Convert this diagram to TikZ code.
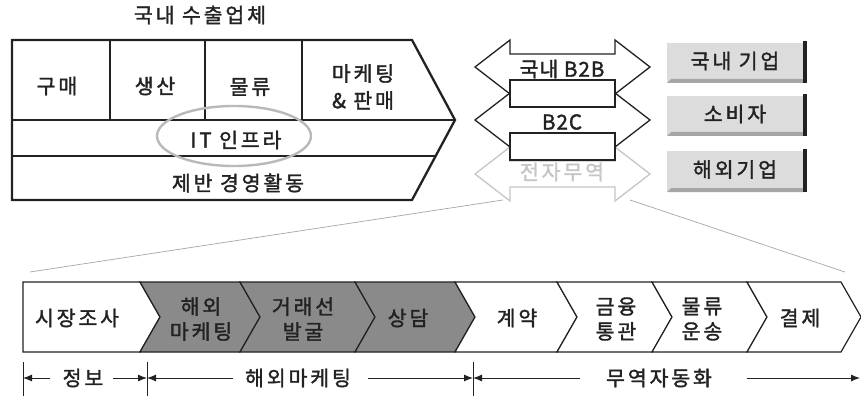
\documentclass[tikz,border=0pt]{standalone}
\usepackage{fontspec}
\setmainfont[LetterSpace=14, FakeBold=1.6]{Noto Sans CJK KR}
\usetikzlibrary{arrows.meta}
\definecolor{dk}{HTML}{8A8A8A}
\definecolor{lt}{HTML}{DCDCDC}
\definecolor{ink}{HTML}{222222}
\begin{document}
\begin{tikzpicture}[x=1pt,y=-1pt,
  txt/.style={font=\fontsize{20.5}{25}\selectfont, text=ink, inner sep=0pt, align=center},
  tight/.style={font=\fontsize{20.5}{25}\selectfont\addfontfeature{LetterSpace=5}},
  thinline/.style={line width=1.1pt, ink},
  dimarrow/.style={line width=1pt, ink, -{Latex[length=9pt,width=7pt]}},
  tick/.style={line width=1pt, ink},
  zoomline/.style={line width=0.7pt, gray!70},
  chev/.style={line width=1.2pt, ink, line join=miter},
  twoway/.style={line width=1.3pt, fill=white, line join=miter}
]
\fill[white] (0,0) rectangle (861,398);
\useasboundingbox (0,0) rectangle (861,398);

% ---------- top value chain box ----------
\node[txt] (title) at (200,15) {국내 수출업체};
\draw[line width=2.3pt, ink, line join=miter] (12,40) -- (412,40) -- (455,120) -- (412,200) -- (12,200) -- cycle;
\draw[thinline] (12,120) -- (455,120);
\draw[thinline] (12,156) -- (435.6,156);
\draw[thinline] (110,40) -- (110,120);
\draw[thinline] (205,40) -- (205,120);
\draw[thinline] (302,40) -- (302,120);
\node[txt] (buy) at (57,86) {구매};
\node[txt] (prod) at (155,86) {생산};
\node[txt] (logi) at (250,87) {물류};
\node[txt] (mkt) at (363,87) {마케팅\\[2pt]\& 판매};
\draw[gray!55, line width=2.4pt] (234,136) ellipse [x radius=77, y radius=30];
\node[txt] (it) at (236,140) {IT 인프라};
\node[txt] (mgmt) at (238,183) {제반 경영활동};

% ---------- two-way arrows ----------
\foreach \c/\col in {174/gray!45, 120/ink, 67/ink}{
  \draw[twoway, draw=\col] (475,\c) -- (510,\c-27) -- (510,\c-13) -- (615,\c-13) -- (615,\c-27)
     -- (650,\c) -- (615,\c+27) -- (615,\c+13) -- (510,\c+13) -- (510,\c+27) -- cycle;
}
\draw[line width=1.3pt, ink, fill=white] (510,80) rectangle (615,107);
\draw[line width=1.3pt, ink, fill=white] (510,133) rectangle (615,160);
\node[txt, tight] (b2b) at (562,69) {국내 B2B};
\node[txt, tight] (b2c) at (562,122) {B2C};
\node[txt, text=gray!45] (ec) at (562,172) {전자무역};

% ---------- right boxes ----------
\foreach \t/\b/\name/\lab in {43/83/dom/국내 기업, 96/136/cons/소비자, 151/192/ovs/해외기업}{
  \fill[lt] (667,\t) rectangle (804,\b);
  \fill[gray!70] (667,\b) -- (671,\b-4) -- (804,\b-4) -- (804,\b) -- cycle;
  \fill[ink] (803,\t-2) rectangle (807,\b);
  \node[txt] (\name) at (735,{(\t+\b)/2-2}) {\lab};
}

% ---------- zoom lines ----------
\coordinate (zl1) at (503,200);
\coordinate (zl2) at (30,272);
\coordinate (zr1) at (630,200);
\coordinate (zr2) at (845,272);
\draw[zoomline] (zl1) -- (zl2);
\draw[zoomline] (zr1) -- (zr2);

% ---------- bottom chevron bar ----------
\draw[chev, fill=white] (23,282) -- (140,282) -- (160,317) -- (140,352) -- (23,352) -- cycle;
\foreach \a/\b/\f in {140/240/dk, 240/355/dk, 355/455/dk, 455/557/white, 557/652/white, 652/747/white, 747/841/white}{
  \draw[chev, fill=\f] (\a,282) -- (\b,282) -- (\b+20,317) -- (\b,352) -- (\a,352) -- (\a+20,317) -- cycle;
}
\node[txt] (s1) at (77,318) {시장조사};
\node[txt] (s2) at (201,319) {해외\\마케팅};
\node[txt] (s3) at (303,319) {거래선\\발굴};
\node[txt] (s4) at (408,318) {상담};
\node[txt] (s5) at (517,318) {계약};
\node[txt] (s6) at (616,319) {금융\\통관};
\node[txt] (s7) at (702,319) {물류\\운송};
\node[txt] (s8) at (800,318) {결제};

% ---------- dimension lines ----------
\coordinate (k1) at (23,378);
\coordinate (k2) at (147,378);
\coordinate (k3) at (473,378);
\coordinate (kend) at (860,378);
\draw[tick] (23,362) -- (23,396);
\draw[tick] (147,362) -- (147,396);
\draw[tick] (473,362) -- (473,396);
\node[txt] (d1) at (83,378) {정보};
\node[txt] (d2) at (298,378) {해외마케팅};
\node[txt] (d3) at (659,378) {무역자동화};
\coordinate (d1a) at (50,378);
\coordinate (d1b) at (113,378);
\coordinate (d2a) at (233,378);
\coordinate (d2b) at (368,378);
\coordinate (d3a) at (580,378);
\coordinate (d3b) at (747,378);
\draw[dimarrow] (d1a) -- (k1);
\draw[dimarrow] (d1b) -- (k2);
\draw[dimarrow] (d2a) -- (k2);
\draw[dimarrow] (d2b) -- (k3);
\draw[dimarrow] (d3a) -- (k3);
\draw[dimarrow] (d3b) -- (kend);
\end{tikzpicture}
\end{document}
